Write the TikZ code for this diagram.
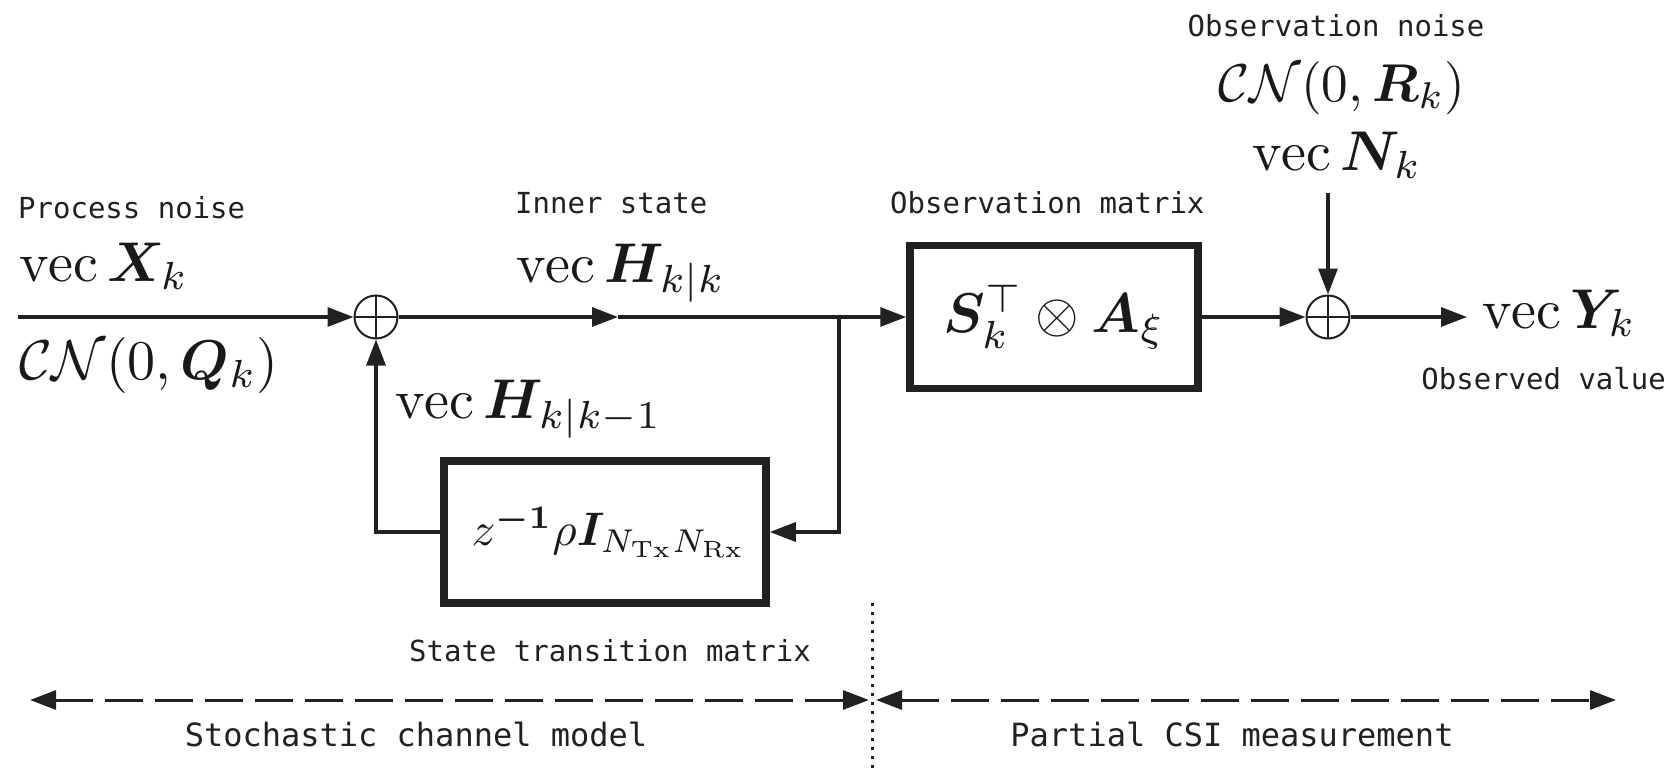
\documentclass[tikz,border=0pt]{standalone}
\usepackage{amsmath}
\usepackage{bm}
\usepackage{fontspec}
\newfontfamily\lblfont{DejaVu Sans Mono}
\usetikzlibrary{arrows.meta}
\tikzset{
  wire/.style={line width=3.2pt, draw=black!87},
  arr/.style={wire, -{Triangle[length=26pt,width=19pt]}},
  sumnode/.style={circle, draw=black!87, line width=2pt, minimum size=43pt, inner sep=0pt,
    path picture={\draw[line width=2pt,black!87] (path picture bounding box.north) -- (path picture bounding box.south)
      (path picture bounding box.west) -- (path picture bounding box.east);}},
  blockbox/.style={draw=black!87, line width=7.5pt, inner sep=0pt},
  lbl/.style={inner sep=0pt, font=\lblfont\fontsize{29}{34}\selectfont, text=black!87},
  biglbl/.style={inner sep=0pt, font=\lblfont\fontsize{32}{38}\selectfont, text=black!87},
  mth/.style={inner sep=0pt, font=\fontsize{10}{12}\selectfont, text=black!90, scale=5.6, transform shape},
  span/.style={line width=3pt, draw=black!87, dash pattern=on 38pt off 12pt,
    {Triangle[length=26pt,width=19pt]}-{Triangle[length=26pt,width=19pt]}},
}
\begin{document}
\begin{tikzpicture}[x=1pt,y=1pt]
\useasboundingbox (0,0) rectangle (1671,-768);
% summing junctions
\node[sumnode] (s1) at (376,-317) {};
\node[sumnode] (s2) at (1328,-317) {};
% blocks
\node[blockbox, minimum width=288pt, minimum height=143pt] (obs) at (1054,-317) {};
\node[mth] at (obs.center) {$\bm{S}_k^{\top}\otimes\bm{A}_{\xi}$};
\node[blockbox, minimum width=322pt, minimum height=142pt] (trans) at (605,-532) {};
\node[mth, scale=0.84] at ([xshift=4pt]trans.center) {$z^{\bm{-1}}\rho\bm{I}_{N_{\mathrm{Tx}}N_{\mathrm{Rx}}}$};
% coordinates
\coordinate (in) at (18,-317);
\coordinate (mid) at (618,-317);
\coordinate (br) at (839,-317);
\coordinate (brd) at (839,-532);
\coordinate (fbl) at (376,-532);
\coordinate (ntop) at (1328,-193);
\coordinate (out) at (1467,-317);
\coordinate (dtop) at (872,-603);
\coordinate (dbot) at (872,-768);
\coordinate (l1) at (30,-700);
\coordinate (l2) at (869,-700);
\coordinate (r1) at (876,-700);
\coordinate (r2) at (1616,-700);
% connectors
\draw[arr] (in) -- (s1.west);
\draw[arr] (s1.east) -- (mid);
\draw[wire] (mid) -- (br);
\draw[arr] (br) -- (obs.west);
\draw[arr] (br) -- (brd) -- (trans.east);
\draw[arr] (trans.west) -- (fbl) -- (s1.south);
\draw[arr] (obs.east) -- (s2.west);
\draw[arr] (ntop) -- (s2.north);
\draw[arr] (s2.east) -- (out);
% region markers
\draw[line width=3pt, black!87, dash pattern=on 3pt off 6pt] (dtop) -- (dbot);
\draw[span] (l1) -- (l2);
\draw[span] (r1) -- (r2);
% labels
\node[lbl, anchor=base west] (pn) at (18,-218) {Process noise};
\node[mth, anchor=base west] (xk) at (18,-281) {$\operatorname{vec}\bm{X}_k$};
\node[mth, anchor=base west] (qk) at (18,-379) {$\mathcal{CN}(0,\bm{Q}_k)$};
\node[lbl, anchor=base west] (is) at (515,-213) {Inner state};
\node[mth, anchor=base west] (hkk) at (515,-282) {$\operatorname{vec}\bm{H}_{k|k}$};
\node[mth, anchor=base west] (hkk1) at (394,-418) {$\operatorname{vec}\bm{H}_{k|k-1}$};
\node[lbl, anchor=base west] (om) at (890,-213) {Observation matrix};
\node[lbl, anchor=base] (on) at (1336,-37) {Observation noise};
\node[mth, anchor=base, scale=0.95] (rk) at (1342,-101) {$\mathcal{CN}(0,\bm{R}_k)$};
\node[mth, anchor=base] (nk) at (1337,-170) {$\operatorname{vec}\bm{N}_k$};
\node[mth, anchor=base west] (yk) at (1481,-328) {$\operatorname{vec}\bm{Y}_k$};
\node[lbl, anchor=base east] (ov) at (1666,-389) {Observed value};
\node[lbl, anchor=base] (st) at (610,-661) {State transition matrix};
\node[biglbl, anchor=base] (scm) at (416,-746) {Stochastic channel model};
\node[biglbl, anchor=base] (pcm) at (1232,-746) {Partial CSI measurement};
\end{tikzpicture}
\end{document}
